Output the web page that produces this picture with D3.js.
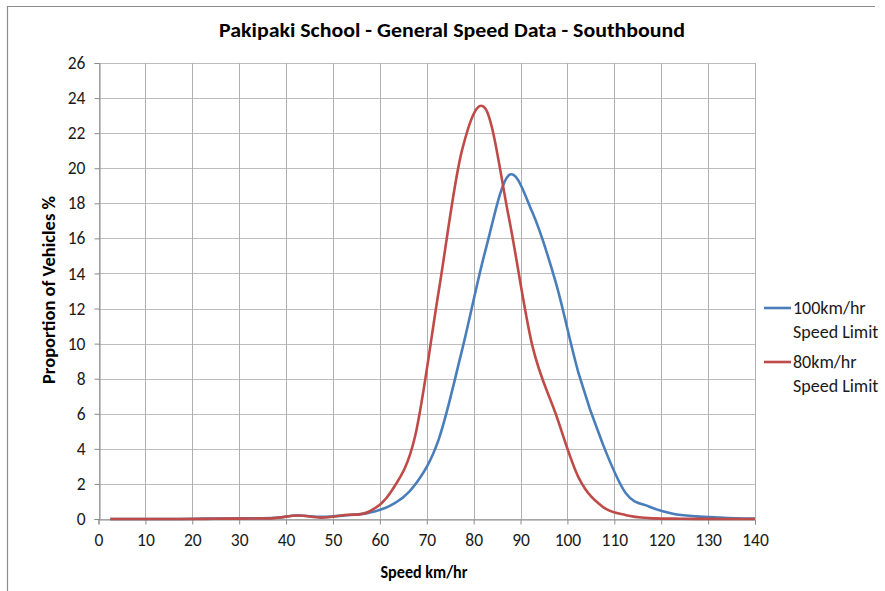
<!DOCTYPE html>
<html><head><meta charset="utf-8">
<script src="https://cdn.jsdelivr.net/npm/d3@7/dist/d3.min.js"></script>
<style>
html,body{margin:0;padding:0;background:#fff;}
svg text{font-family:Carlito,Calibri,"Noto Sans",sans-serif;}
</style></head>
<body><svg id="c" width="885" height="591"></svg>
<script>
const speeds = [2.5,7.5,12.5,17.5,22.5,27.5,32.5,37.5,42.5,47.5,52.5,57.5,62.5,67.5,72.5,77.5,82.5,87.5,92.5,97.5,102.5,107.5,112.5,117.5,122.5,127.5,132.5,137.5,140];
const limit100 = [0,0,0,0,0.02,0.03,0.04,0.07,0.2,0.12,0.2,0.35,0.8,1.95,4.5,9.6,15.3,19.6,17.5,13.5,8.2,4.3,1.45,0.7,0.3,0.15,0.08,0.03,0.02];
const limit80  = [0,0,0,0,0.01,0.02,0.03,0.05,0.2,0.08,0.23,0.4,1.6,4.7,12.9,21.0,23.4,17.2,9.9,6.0,2.3,0.7,0.22,0.05,0.02,0.01,0,0,0];
const xTicks = d3.range(0,141,10);
const yTicks = d3.range(0,27,2);
const seriesNames = [["100km/hr","Speed Limit"],["80km/hr","Speed Limit"]];
const colors = ["#4a7ebb","#be4b48"];
const title = "Pakipaki School - General Speed Data - Southbound";

const svg = d3.select("#c");
const L = 98.5, R = 755, T = 63, B = 519;
const x = d3.scaleLinear().domain([0,140]).range([L,R]);
const y = d3.scaleLinear().domain([0,26]).range([B,T]);

svg.append("path").attr("d","M7.5,591 V6.5 H875").attr("fill","none").attr("stroke","#8c8c8c").attr("stroke-width",1.2);

svg.append("g").selectAll("line").data(yTicks).join("line")
  .attr("x1",L).attr("x2",R).attr("y1",d=>Math.round(y(d))+0.5).attr("y2",d=>Math.round(y(d))+0.5)
  .attr("stroke","#bdbdbd").attr("stroke-width",1);
svg.append("g").selectAll("line").data(xTicks).join("line")
  .attr("y1",T).attr("y2",B).attr("x1",d=>Math.round(x(d))+0.5).attr("x2",d=>Math.round(x(d))+0.5)
  .attr("stroke","#b0b0b0").attr("stroke-width",1);

const ax = svg.append("g").attr("transform",`translate(0,${Math.round(B)+0.5})`)
  .call(d3.axisBottom(x).tickValues(xTicks).tickSize(5).tickPadding(7));
const ay = svg.append("g").attr("transform",`translate(${Math.round(L)+0.5},0)`)
  .call(d3.axisLeft(y).tickValues(yTicks).tickSize(5).tickPadding(9));
[ax,ay].forEach(g=>{
  g.select(".domain").attr("stroke","#8c8c8c");
  g.selectAll(".tick line").attr("stroke","#8c8c8c");
  g.selectAll(".tick text").attr("fill","#1a1a1a").style("font-size","17.5px")
   .style("font-family","Carlito,Calibri,'Noto Sans',sans-serif");
});
ax.selectAll(".tick text").attr("dy","0.85em");

const line = d3.line().x((d,i)=>x(speeds[i])).y(d=>y(d)).curve(d3.curveCatmullRom.alpha(0));
[limit100,limit80].forEach((s,k)=>{
  svg.append("path").datum(s).attr("d",line).attr("fill","none")
    .attr("stroke",colors[k]).attr("stroke-width",2.6).attr("stroke-linejoin","round");
});

svg.append("text").attr("x",452).attr("y",37).attr("text-anchor","middle")
  .attr("font-weight","bold").style("font-size","21px").attr("fill","#000")
  .attr("textLength",466).attr("lengthAdjust","spacingAndGlyphs").text(title);

svg.append("text").attr("x",424).attr("y",578).attr("text-anchor","middle")
  .attr("font-weight","bold").style("font-size","17.5px").attr("fill","#000")
  .attr("textLength",87).attr("lengthAdjust","spacingAndGlyphs").text("Speed km/hr");
svg.append("text").attr("transform","translate(55,290) rotate(-90)").attr("text-anchor","middle")
  .attr("font-weight","bold").style("font-size","17.5px").attr("fill","#000")
  .attr("textLength",188).attr("lengthAdjust","spacingAndGlyphs").text("Proportion of Vehicles %");

const ly = [308,362];
seriesNames.forEach((n,k)=>{
  svg.append("line").attr("x1",764).attr("x2",791).attr("y1",ly[k]).attr("y2",ly[k])
    .attr("stroke",colors[k]).attr("stroke-width",2.6);
  svg.append("text").attr("x",793).attr("y",ly[k]+6).style("font-size","18px").attr("fill","#1a1a1a").text(n[0]);
  svg.append("text").attr("x",793).attr("y",ly[k]+30).style("font-size","18px").attr("fill","#1a1a1a").text(n[1]);
});
</script></body></html>
